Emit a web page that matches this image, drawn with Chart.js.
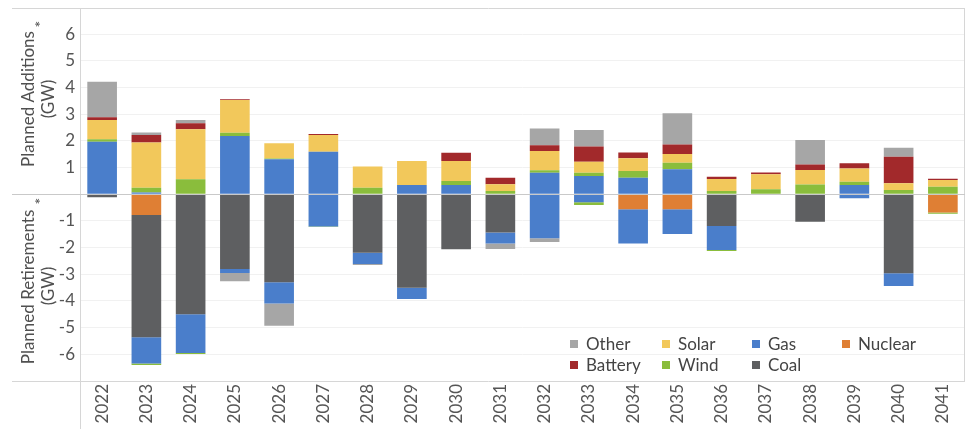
<!DOCTYPE html>
<html><head><meta charset="utf-8">
<script src="https://cdn.jsdelivr.net/npm/chart.js@4/dist/chart.umd.min.js"></script>
<style>
html,body{margin:0;padding:0;background:#fff;}
#wrap{position:relative;width:971px;height:429px;}
#legend{position:absolute;left:0;top:0;width:971px;height:429px;pointer-events:none;font-family:Lato,sans-serif;font-size:17px;color:#444;}
.li{position:absolute;white-space:nowrap;line-height:20px;}
.sw{position:absolute;width:8px;height:8px;}
</style></head>
<body><div id="wrap"><canvas id="c" width="971" height="429"></canvas><div id="legend"></div></div>
<script>
const years = ["2022","2023","2024","2025","2026","2027","2028","2029","2030","2031","2032","2033","2034","2035","2036","2037","2038","2039","2040","2041"];
// Planned additions (GW), positive
const gasAdd     = [1.97,0.07,0,2.19,1.31,1.60,0,0.35,0.35,0,0.81,0.69,0.62,0.94,0,0,0,0.35,0,0];
const windAdd    = [0.09,0.18,0.56,0.12,0.03,0,0.25,0,0.15,0.12,0.09,0.12,0.25,0.24,0.12,0.19,0.37,0.12,0.16,0.28];
const solarAdd   = [0.73,1.69,1.88,1.23,0.57,0.62,0.79,0.90,0.75,0.26,0.72,0.41,0.48,0.33,0.45,0.56,0.54,0.50,0.25,0.26];
const batteryAdd = [0.10,0.28,0.22,0.02,0,0.04,0,0,0.31,0.24,0.22,0.57,0.22,0.36,0.09,0.07,0.21,0.19,1.00,0.04];
const otherAdd   = [1.33,0.10,0.13,0,0,0,0,0,0,0,0.63,0.62,0,1.17,0,0,0.92,0,0.34,0];
// Planned retirements (GW), negative
const nuclearRet = [0,-0.78,0,0,0,0,0,0,0,0,0,0,-0.56,-0.56,0,0,0,0,0,-0.68];
const coalRet    = [-0.11,-4.58,-4.50,-2.80,-3.30,0,-2.19,-3.50,-2.06,-1.43,0,0,0,0,-1.19,0,-1.03,0,-2.96,0];
const gasRet     = [0,-0.98,-1.45,-0.15,-0.79,-1.21,-0.42,-0.43,0,-0.41,-1.65,-0.30,-1.28,-0.93,-0.90,0,0,-0.15,-0.48,0];
const windRet    = [0,-0.06,-0.04,0,0,-0.02,0,0,0,0,0,-0.10,0,0,-0.04,0,0,0,0,-0.05];
const otherRet   = [0,0,0,-0.31,-0.84,0,-0.04,0,0,-0.21,-0.14,0,0,0,0,0,0,0,0,0];
const yTickLabels = ["-6","-5","-4","-3","-2","-1","1","2","3","4","5","6"];
const legendOrder = ["Other","Solar","Gas","Nuclear","Battery","Wind","Coal"];

const COLORS = {Other:"#a6a6a6",Battery:"#a2292b",Solar:"#f2c85b",Gas:"#4a7ecb",Nuclear:"#df7f34",Wind:"#8abd3c",Coal:"#5e5f61"};
const FONT = "Lato, 'Open Sans', sans-serif";

function ds(label, data){ return {label, data, backgroundColor: COLORS[label], borderWidth:0, barPercentage:0.67, categoryPercentage:1.0, stack:"s"}; }

const framePlugin = {
  id:"frame",
  afterDraw(chart){
    const ctx = chart.ctx, a = chart.chartArea, y = chart.scales.y;
    const y0 = Math.round(y.getPixelForValue(0))+0.5;
    ctx.save();
    ctx.strokeStyle = "#d6d6d6"; ctx.lineWidth = 1;
    ctx.beginPath();
    ctx.moveTo(12, Math.round(a.top)+0.5); ctx.lineTo(a.right, Math.round(a.top)+0.5);
    ctx.moveTo(12, Math.round(a.bottom)+0.5); ctx.lineTo(a.right, Math.round(a.bottom)+0.5);
    ctx.moveTo(Math.round(a.left)+0.5, Math.round(a.top)); ctx.lineTo(Math.round(a.left)+0.5, 429);
    ctx.moveTo(Math.round(a.right)-0.5, Math.round(a.top)); ctx.lineTo(Math.round(a.right)-0.5, Math.round(a.bottom));
    ctx.stroke();
    ctx.strokeStyle = "#c9c9c9";
    ctx.beginPath(); ctx.moveTo(12, y0); ctx.lineTo(a.right, y0); ctx.stroke();
    // axis titles
    ctx.fillStyle = "#505050";
    ctx.font = "17px " + FONT;
    ctx.textAlign = "center"; ctx.textBaseline = "middle";
    const drawT = (x, cy, txt) => { ctx.save(); ctx.translate(x, cy); ctx.rotate(-Math.PI/2); ctx.fillText(txt, 0, 0); ctx.restore(); };
    drawT(29, 99, "Planned Additions");
    drawT(49, 99, "(GW)");
    drawT(29, 287, "Planned Retirements");
    drawT(49, 286, "(GW)");
    ctx.font = "16px " + FONT;
    drawT(41, 24, "*");
    drawT(41, 201, "*");
    ctx.restore();
  }
};

function build(){
  const chart = new Chart(document.getElementById("c"), {
    type:"bar",
    data:{
      labels: years,
      datasets:[
        ds("Nuclear", nuclearRet), ds("Coal", coalRet), ds("Gas", gasRet), ds("Wind", windRet), ds("Other", otherRet),
        ds("Gas", gasAdd), ds("Wind", windAdd), ds("Solar", solarAdd), ds("Battery", batteryAdd), ds("Other", otherAdd)
      ]
    },
    options:{
      responsive:false, animation:false, devicePixelRatio:1,
      layout:{padding:{left:0,right:6,top:7.6,bottom:0}},
      plugins:{legend:{display:false}, tooltip:{enabled:false}, title:{display:false}},
      scales:{
        x:{
          stacked:true,
          grid:{display:false, drawTicks:false},
          border:{display:false},
          ticks:{maxRotation:90,minRotation:90,autoSkip:false,padding:3,color:"#555",font:{family:FONT,size:17}},
          afterFit(s){ s.height = 48; s.paddingLeft = 0; s.paddingRight = 0; }
        },
        y:{
          stacked:true, min:-7, max:7,
          grid:{drawTicks:false, color:(c)=> (c.tick && (c.tick.value===7||c.tick.value===-7||c.tick.value===0)) ? "rgba(0,0,0,0)" : "#f1f1f1"},
          border:{display:false},
          ticks:{stepSize:1,padding:5,color:"#555",font:{family:FONT,size:17},
            callback:(v)=> yTickLabels.includes(String(v)) ? String(v) : ""},
          afterFit(s){ s.width = 80; s.paddingTop = 0; s.paddingBottom = 0; }
        }
      }
    },
    plugins:[framePlugin]
  });
  // legend
  const lg = document.getElementById("legend");
  const colX = [570,662,752,842], rowY = [344,365];
  legendOrder.forEach((name,i)=>{
    const r = Math.floor(i/4), c = i%4;
    const sw = document.createElement("div"); sw.className="sw";
    sw.style.background = COLORS[name]; sw.style.left = colX[c]+"px"; sw.style.top = (rowY[r]-4)+"px";
    lg.appendChild(sw);
    const t = document.createElement("div"); t.className="li"; t.textContent = name;
    t.style.left = (colX[c]+16)+"px"; t.style.top = (rowY[r]-10)+"px";
    lg.appendChild(t);
  });
}
if (document.fonts && document.fonts.load) {
  document.fonts.load("17px Lato").then(build, build);
} else build();
</script></body></html>
